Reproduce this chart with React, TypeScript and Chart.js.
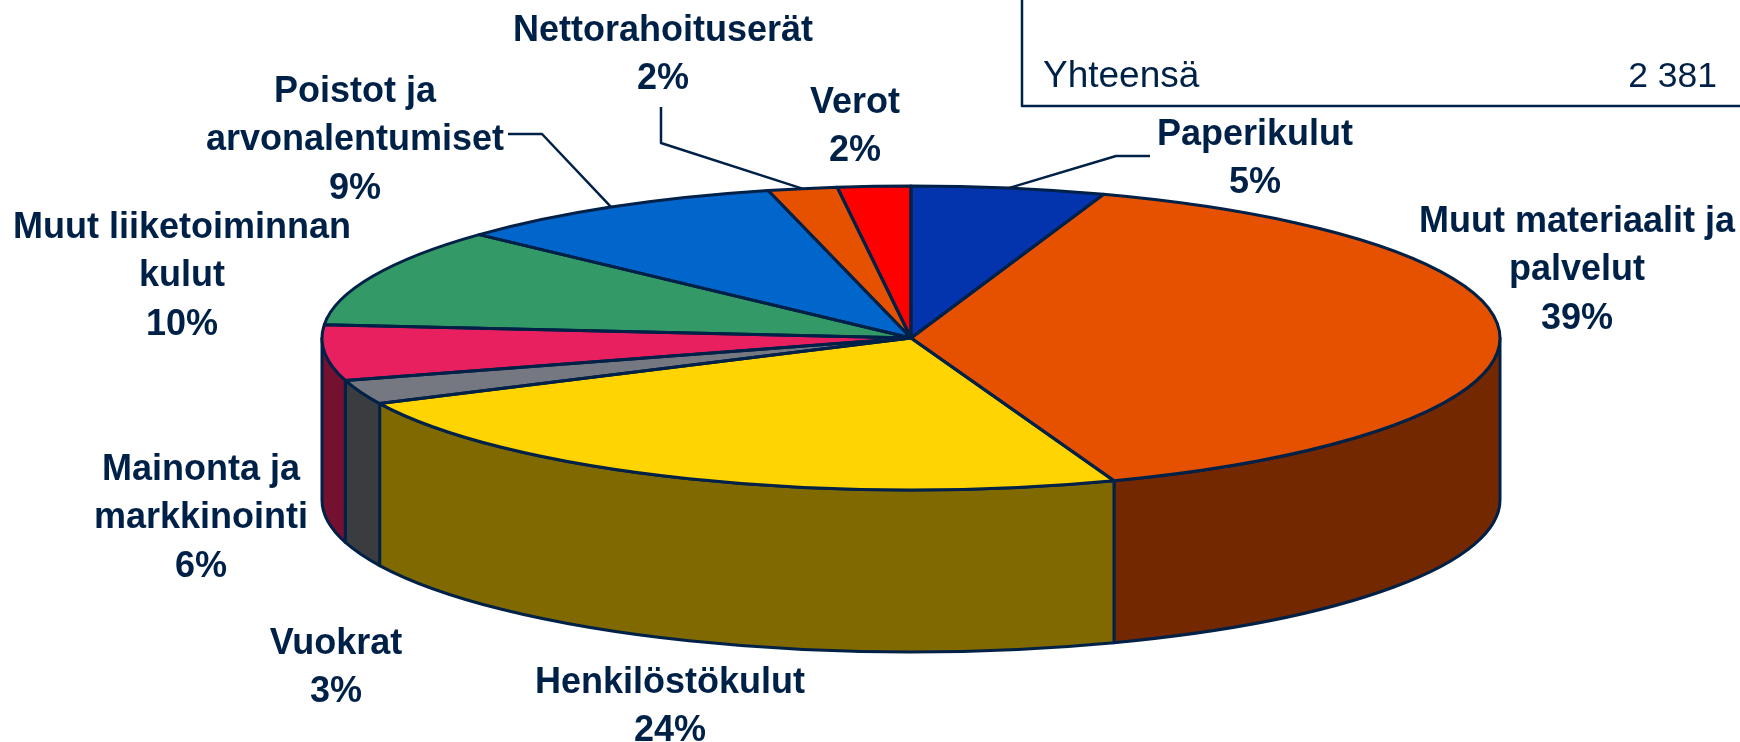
import React, { useEffect, useRef } from "react";
import { Chart, registerables } from "chart.js";

Chart.register(...registerables);

const categories = [
  "Paperikulut",
  "Muut materiaalit ja palvelut",
  "Henkilöstökulut",
  "Vuokrat",
  "Mainonta ja markkinointi",
  "Muut liiketoiminnan kulut",
  "Poistot ja arvonalentumiset",
  "Nettorahoituserät",
  "Verot",
];
const sliceShares = [5.3, 39.1, 23.5, 2.6, 5.9, 10.5, 9.2, 1.9, 2.0];
const topColors = ["#0433AE", "#E65100", "#FFD400", "#757880", "#E82060", "#339966", "#0066CC", "#E65100", "#FF0000"];
const wallColors = ["#021A57", "#732800", "#806A00", "#3B3C40", "#741030", "#1A4D33", "#003366", "#732800", "#800000"];
const labelLines = [
  ["Paperikulut", "5%"],
  ["Muut materiaalit ja", "palvelut", "39%"],
  ["Henkilöstökulut", "24%"],
  ["Vuokrat", "3%"],
  ["Mainonta ja", "markkinointi", "6%"],
  ["Muut liiketoiminnan", "kulut", "10%"],
  ["Poistot ja", "arvonalentumiset", "9%"],
  ["Nettorahoituserät", "2%"],
  ["Verot", "2%"],
];
const labelCenters = [
  [1255, 135], [1577, 222], [670, 683], [336, 644], [201, 470], [182, 228], [355, 92], [663, 31], [855, 103],
];
const totalLabel = "Yhteensä";
const totalValue = "2 381";

const NAVY = "#002147";
const CX = 911, CY = 338, RX = 589, RY = 152, DEPTH = 162;
const LINE_H = 48.5;
const FONT = "'Liberation Sans', Arial, sans-serif";

const piePlugin = {
  id: "pie3d",
  beforeDatasetsDraw(chart: any) {
    const { ctx } = chart;
    const arcs = chart.getDatasetMeta(0).data;
    // side wall of the front half
    ctx.save();
    ctx.lineWidth = 3;
    ctx.strokeStyle = NAVY;
    ctx.lineJoin = "round";
    arcs.forEach((arc: any, i: number) => {
      const s = Math.max(arc.startAngle, 0);
      const e = Math.min(arc.endAngle, Math.PI);
      if (e <= s) return;
      ctx.beginPath();
      ctx.ellipse(CX, CY, RX, RY, 0, s, e);
      ctx.ellipse(CX, CY + DEPTH, RX, RY, 0, e, s, true);
      ctx.closePath();
      ctx.fillStyle = wallColors[i];
      ctx.fill();
      ctx.stroke();
    });
    ctx.restore();
    // squash the library's round pie into the tilted top face
    const first = arcs[0];
    ctx.save();
    ctx.translate(CX, CY);
    ctx.scale(RX / first.outerRadius, RY / first.outerRadius);
    ctx.translate(-first.x, -first.y);
  },
  afterDatasetsDraw(chart: any) {
    const { ctx } = chart;
    ctx.restore();
    const arcs = chart.getDatasetMeta(0).data;
    ctx.save();
    ctx.lineWidth = 3;
    ctx.strokeStyle = NAVY;
    ctx.lineJoin = "round";
    arcs.forEach((arc: any) => {
      ctx.beginPath();
      ctx.moveTo(CX, CY);
      ctx.ellipse(CX, CY, RX, RY, 0, arc.startAngle, arc.endAngle);
      ctx.closePath();
      ctx.stroke();
    });
    // leader lines, from the rim at each slice's middle angle
    const rim = (i: number) => {
      const m = (arcs[i].startAngle + arcs[i].endAngle) / 2;
      return [CX + RX * Math.cos(m), CY + RY * Math.sin(m)];
    };
    const leaders: [number, number[][]][] = [
      [0, [[1116, 156], [1150, 156]]],
      [6, [[542, 134], [508, 134]]],
      [7, [[661, 143], [661, 107]]],
    ];
    ctx.lineWidth = 2.5;
    leaders.forEach(([i, pts]) => {
      const p = rim(i);
      ctx.beginPath();
      ctx.moveTo(p[0], p[1]);
      pts.forEach((q) => ctx.lineTo(q[0], q[1]));
      ctx.stroke();
    });
    // table box remnant
    ctx.beginPath();
    ctx.moveTo(1022, 0);
    ctx.lineTo(1022, 106);
    ctx.lineTo(1740, 106);
    ctx.stroke();
    // text
    ctx.fillStyle = NAVY;
    ctx.textBaseline = "alphabetic";
    ctx.textAlign = "left";
    ctx.font = `37px ${FONT}`;
    ctx.fillText(totalLabel, 1043, 87);
    ctx.textAlign = "right";
    ctx.font = `35.5px ${FONT}`;
    ctx.fillText(totalValue, 1717, 87);
    ctx.font = `bold 36px ${FONT}`;
    ctx.textAlign = "center";
    ctx.textBaseline = "middle";
    labelLines.forEach((lines, i) => {
      lines.forEach((line, j) => {
        ctx.fillText(line, labelCenters[i][0], labelCenters[i][1] + j * LINE_H);
      });
    });
    ctx.restore();
  },
};

export default function App() {
  const ref = useRef<HTMLCanvasElement>(null);
  useEffect(() => {
    const chart = new Chart(ref.current as HTMLCanvasElement, {
      type: "pie",
      data: {
        labels: categories,
        datasets: [
          {
            data: sliceShares,
            backgroundColor: topColors,
            borderWidth: 0,
            clip: false,
          } as any,
        ],
      },
      options: {
        responsive: false,
        animation: false,
        events: [],
        rotation: 0,
        plugins: { legend: { display: false }, tooltip: { enabled: false } },
      },
      plugins: [piePlugin],
    });
    return () => chart.destroy();
  }, []);
  return (
    <div style={{ position: "fixed", left: 0, top: 0, width: 1740, height: 742, background: "#fff" }}>
      <canvas ref={ref} width={1740} height={742} style={{ display: "block" }} />
    </div>
  );
}
